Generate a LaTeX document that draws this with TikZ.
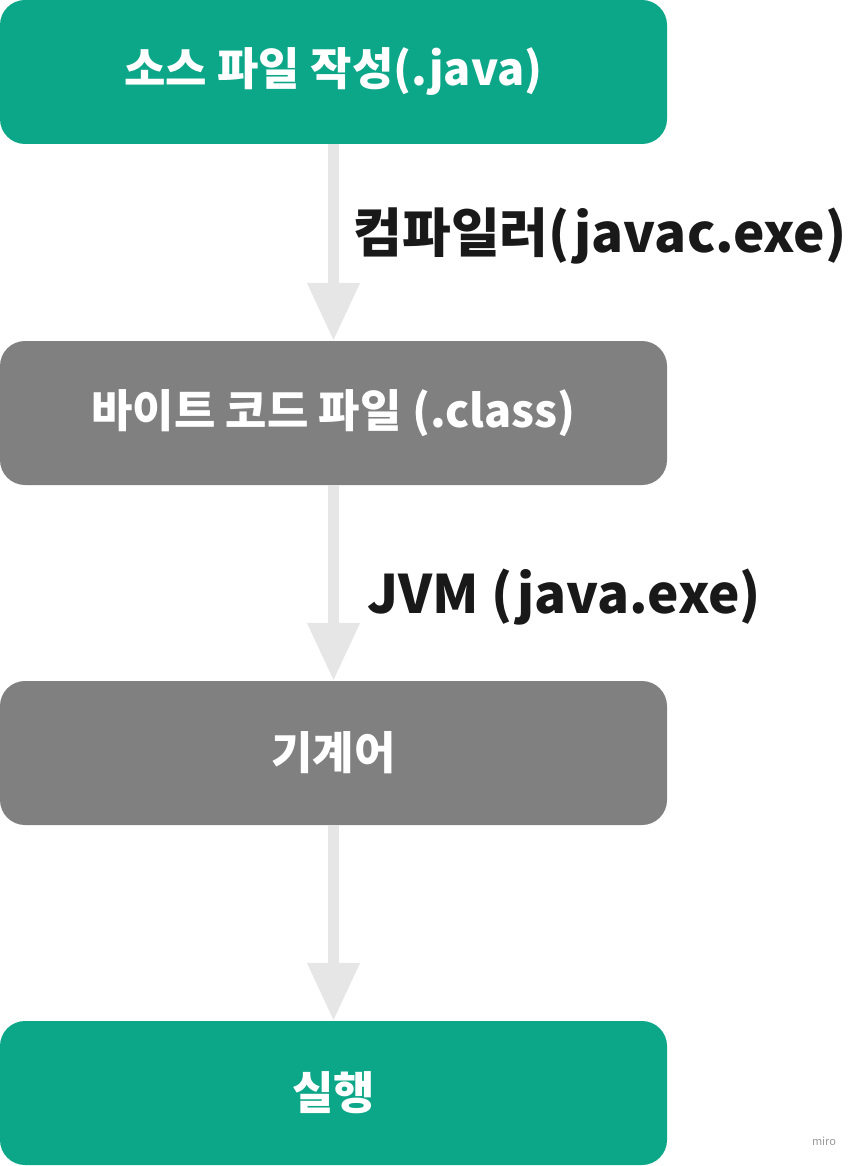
\documentclass[tikz,border=0pt]{standalone}
\usepackage{fontspec}
\setmainfont{Noto Sans CJK KR}
\usetikzlibrary{arrows.meta}
\definecolor{teal}{HTML}{0CA789}
\definecolor{gbox}{HTML}{808080}
\definecolor{arr}{HTML}{E6E6E6}
\begin{document}
\begin{tikzpicture}[x=1pt,y=-1pt,
 box/.style={rounded corners=25pt,minimum width=667pt,minimum height=144pt,inner sep=0pt,text=white,font=\fontsize{45}{50}\selectfont\bfseries},
 conn/.style={arr,line width=11pt,-{Triangle[width=50pt,length=58pt]}},
 lbl/.style={anchor=west,text=black!90,font=\fontsize{53}{58}\selectfont\bfseries}]
\useasboundingbox (0,0) rectangle (857,1166);
\node[box,fill=teal] (a) at (333.5,72) {소스 파일 작성(.java)};
\node[box,fill=gbox] (b) at (333.5,413) {바이트 코드 파일 (.class)};
\node[box,fill=gbox] (c) at (333.5,753) {기계어};
\node[box,fill=teal] (d) at (333.5,1093) {실행};
\draw[conn] (a.south) -- (b.north);
\draw[conn] (b.south) -- (c.north);
\draw[conn] (c.south) -- (d.north);
\node[lbl] (l1) at (350,236) {컴파일러(javac.exe)};
\node[lbl] (l2) at (364,597) {JVM (java.exe)};
\node[text=black!40,font=\fontsize{11}{12}\selectfont] (m) at (824,1141) {miro};
\end{tikzpicture}
\end{document}
